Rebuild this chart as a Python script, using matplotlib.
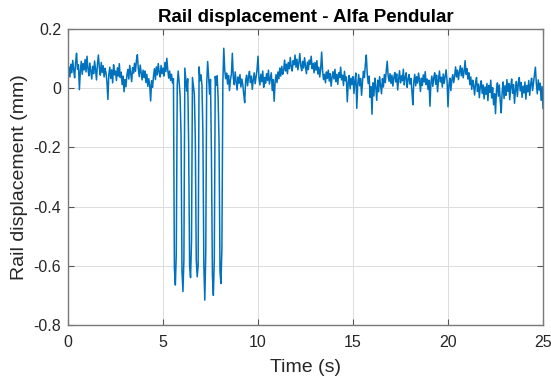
import numpy as np
import matplotlib
matplotlib.use("Agg")
import matplotlib.pyplot as plt

# Sampling step of the recorded signal (s)
sample_step_s = 0.05

# Rail displacement (mm), one row per second
displacement_mm = [
    # 0 s
    0.045, 0.072, 0.038, 0.081, 0.052, 0.094, 0.061, 0.035, 0.088, 0.118,
    0.064, 0.079, -0.005, 0.058, 0.091, 0.047, 0.083, 0.062, 0.097, 0.055,
    # 1 s
    0.108, 0.066, 0.042, 0.085, 0.057, 0.031, 0.074, 0.049, 0.092, 0.063,
    0.028, 0.081, 0.112, 0.069, 0.044, 0.087, 0.053, 0.076, 0.038, 0.067,
    # 2 s
    0.052, 0.021, -0.038, 0.047, 0.071, 0.033, 0.062, 0.018, 0.079, 0.045,
    0.058, 0.026, 0.069, 0.041, 0.083, 0.036, 0.054, 0.012, 0.041, -0.012,
    # 3 s
    0.029, 0.005, 0.044, 0.063, 0.031, 0.077, 0.048, 0.022, 0.069, 0.051,
    0.084, 0.057, 0.093, 0.113, 0.066, 0.039, 0.078, 0.052, 0.028, 0.061,
    # 4 s
    0.036, 0.058, 0.019, 0.047, 0.006, 0.032, 0.011, -0.043, 0.025, 0.003,
    0.041, 0.066, 0.029, 0.072, 0.045, 0.083, 0.054, 0.038, 0.077, 0.049,
    # 5 s
    0.068, 0.041, 0.087, 0.056, 0.101, 0.062, 0.034, 0.058, 0.026, 0.047,
    0.018, 0.032, -0.610, -0.665, -0.560, 0.012, 0.058, 0.021, -0.025, -0.160,
    # 6 s
    -0.620, -0.687, -0.580, 0.068, 0.030, -0.010, 0.032, -0.190, -0.600, -0.640,
    -0.520, 0.036, 0.008, -0.020, -0.170, -0.580, -0.637, -0.600, 0.072, 0.025,
    # 7 s
    0.045, 0.010, -0.150, -0.600, -0.716, -0.560, 0.015, 0.090, 0.040, -0.020,
    0.030, -0.230, -0.630, -0.700, -0.580, 0.040, 0.010, 0.042, -0.030, -0.180,
    # 8 s
    -0.620, -0.660, -0.540, 0.020, 0.135, 0.060, 0.032, 0.051, 0.014, 0.043,
    -0.008, 0.029, 0.047, 0.118, 0.036, 0.012, 0.055, 0.021, -0.006, 0.038,
    # 9 s
    0.017, 0.046, 0.004, 0.031, 0.012, -0.021, -0.049, 0.025, 0.044, 0.008,
    0.036, 0.057, 0.019, 0.041, -0.004, 0.028, 0.052, 0.015, 0.039, 0.063,
    # 10 s
    0.108, 0.034, 0.011, 0.047, 0.022, 0.058, 0.003, 0.036, 0.017, 0.049,
    0.026, 0.061, 0.014, 0.033, 0.052, -0.008, 0.029, -0.044, 0.021, 0.046,
    # 11 s
    0.019, 0.055, 0.032, 0.068, 0.041, 0.074, 0.047, 0.062, 0.095, 0.058,
    0.081, 0.049, 0.087, 0.066, 0.104, 0.072, 0.058, 0.093, 0.079, 0.112,
    # 12 s
    0.071, 0.098, 0.062, 0.085, 0.117, 0.076, 0.059, 0.091, 0.068, 0.103,
    0.074, 0.049, 0.088, 0.063, 0.095, 0.081, 0.108, 0.066, 0.084, 0.052,
    # 13 s
    0.087, 0.061, 0.093, 0.048, 0.071, 0.038, 0.066, 0.122, 0.058, 0.029,
    0.047, 0.018, 0.055, 0.033, 0.061, 0.024, 0.049, 0.007, 0.038, 0.056,
    # 14 s
    0.031, 0.064, 0.022, 0.047, 0.013, 0.052, 0.036, 0.071, 0.028, 0.044,
    0.009, 0.057, 0.025, 0.038, -0.046, 0.019, 0.043, -0.002, 0.034, 0.012,
    # 15 s
    0.039, -0.018, 0.027, 0.051, -0.068, 0.014, 0.046, 0.008, 0.033, -0.024,
    0.021, 0.057, 0.036, 0.079, 0.112, 0.048, 0.016, 0.041, -0.031, 0.005,
    # 16 s
    -0.088, 0.018, -0.026, 0.034, 0.002, -0.041, 0.027, -0.012, 0.039, 0.011,
    -0.019, 0.032, 0.004, 0.046, 0.019, 0.058, 0.091, 0.042, 0.023, 0.049,
    # 17 s
    0.016, 0.044, 0.007, 0.036, 0.053, 0.021, 0.048, -0.006, 0.031, 0.059,
    0.018, 0.042, 0.025, 0.064, 0.011, 0.037, 0.052, 0.003, 0.029, 0.046,
    # 18 s
    0.014, 0.033, -0.009, -0.056, 0.022, 0.047, 0.008, 0.039, 0.017, 0.051,
    0.026, -0.011, 0.034, 0.009, 0.045, 0.021, 0.056, 0.012, 0.031, -0.004,
    # 19 s
    0.027, -0.061, 0.018, 0.041, 0.006, 0.035, 0.052, 0.013, 0.044, -0.012,
    0.029, 0.058, 0.021, 0.037, 0.004, 0.048, 0.016, 0.039, 0.062, 0.025,
    # 20 s
    -0.063, 0.011, 0.034, -0.008, 0.027, 0.046, 0.019, 0.041, 0.072, 0.038,
    0.061, 0.029, 0.054, 0.076, 0.042, 0.068, 0.035, 0.057, 0.093, 0.047,
    # 21 s
    0.066, 0.031, 0.052, 0.012, 0.038, -0.004, 0.027, 0.009, -0.023, 0.018,
    0.036, -0.011, 0.014, -0.032, 0.007, 0.025, -0.018, 0.011, -0.036, 0.004,
    # 22 s
    -0.021, 0.016, -0.042, 0.009, -0.014, 0.027, -0.033, 0.002, -0.056, -0.019,
    -0.086, -0.008, 0.018, -0.027, 0.011, -0.044, -0.083, -0.012, 0.021, -0.035,
    # 23 s
    0.008, -0.024, 0.029, -0.011, 0.016, -0.039, 0.004, 0.031, -0.017, 0.012,
    -0.051, -0.006, 0.023, -0.028, 0.014, 0.036, -0.009, 0.019, -0.031, 0.007,
    # 24 s
    -0.016, 0.021, -0.037, 0.009, -0.012, 0.026, -0.024, 0.013, 0.034, -0.008,
    0.018, 0.041, 0.071, 0.015, -0.019, 0.028, -0.006, 0.017, -0.041, 0.006,
    # 25 s
    -0.068,
]

x_ticks = [0, 5, 10, 15, 20, 25]
y_ticks = [-0.8, -0.6, -0.4, -0.2, 0, 0.2]
x_tick_labels = ["0", "5", "10", "15", "20", "25"]
y_tick_labels = ["-0.8", "-0.6", "-0.4", "-0.2", "0", "0.2"]

title_text = "Rail displacement - Alfa Pendular"
x_label = "Time (s)"
y_label = "Rail displacement (mm)"

time_s = np.arange(len(displacement_mm)) * sample_step_s

plt.rcParams["font.family"] = ["Liberation Sans", "DejaVu Sans"]

fig = plt.figure(figsize=(5.51, 3.82), dpi=100)
ax = fig.add_axes([68 / 551, 1 - 325 / 382, 475 / 551, 296 / 382])

ax.plot(time_s, displacement_mm, color="#0072BD", linewidth=1.1)

ax.set_xlim(0, 25)
ax.set_ylim(-0.8, 0.2)
ax.set_xticks(x_ticks)
ax.set_xticklabels(x_tick_labels)
ax.set_yticks(y_ticks)
ax.set_yticklabels(y_tick_labels)

ax.grid(True, color="#dcdcdc", linewidth=0.7)
ax.set_axisbelow(True)

for s in ax.spines.values():
    s.set_color("#7a7a7a")
    s.set_linewidth(1.0)

ax.tick_params(direction="in", length=4, width=0.8, color="#555555",
               top=True, right=True, labelsize=11.5, labelcolor="#262626")
ax.tick_params(axis="x", pad=7)
ax.tick_params(axis="y", pad=5)

ax.set_title(title_text, fontsize=13.5, fontweight="bold", color="black", pad=5)
ax.set_xlabel(x_label, fontsize=14, color="#262626", labelpad=7)
ax.set_ylabel(y_label, fontsize=14, color="#262626", labelpad=4)

fig.savefig("out.png", dpi=100, facecolor="white")
